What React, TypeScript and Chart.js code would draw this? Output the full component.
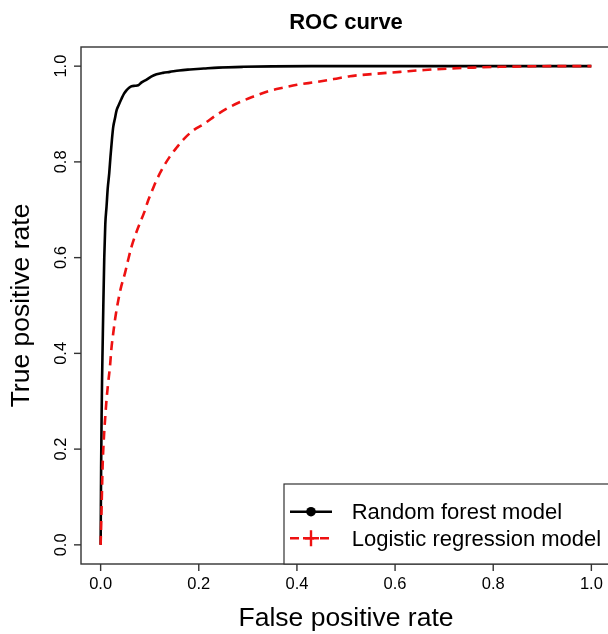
import React, { useEffect, useRef } from "react";
import { Chart, registerables } from "chart.js";

Chart.register(...registerables);

// Random forest ROC curve (false positive rate, true positive rate)
const rfFpr = [0, 0.0005, 0.001, 0.002, 0.003, 0.004, 0.0055, 0.0074, 0.0095, 0.012, 0.0145, 0.0175, 0.02, 0.023, 0.0257, 0.029, 0.0326, 0.0365, 0.0428, 0.048, 0.053, 0.058, 0.063, 0.07, 0.0766, 0.0835, 0.0937, 0.103, 0.114, 0.127, 0.141, 0.16, 0.182, 0.21, 0.24, 0.29, 0.35, 0.43, 1.0];
const rfTpr = [0, 0.08, 0.16, 0.27, 0.35, 0.41, 0.5, 0.6, 0.67, 0.706, 0.745, 0.776, 0.81, 0.846, 0.873, 0.89, 0.908, 0.918, 0.9325, 0.943, 0.95, 0.955, 0.958, 0.959, 0.96, 0.966, 0.972, 0.978, 0.983, 0.986, 0.988, 0.991, 0.993, 0.995, 0.997, 0.9986, 0.9995, 1.0, 1.0];

// Logistic regression ROC curve
const lrFpr = [0, 0.002, 0.004, 0.007, 0.01, 0.012, 0.015, 0.019, 0.022, 0.0257, 0.03, 0.036, 0.042, 0.0495, 0.056, 0.063, 0.07, 0.08, 0.089, 0.097, 0.105, 0.114, 0.127, 0.141, 0.155, 0.168, 0.189, 0.21, 0.236, 0.26, 0.284, 0.31, 0.34, 0.372, 0.4, 0.44, 0.475, 0.508, 0.56, 0.61, 0.66, 0.711, 0.76, 0.813, 0.87, 0.915, 1.0];
const lrTpr = [0, 0.08, 0.163, 0.23, 0.275, 0.303, 0.335, 0.372, 0.41, 0.442, 0.475, 0.511, 0.54, 0.567, 0.595, 0.623, 0.645, 0.672, 0.695, 0.72, 0.74, 0.762, 0.788, 0.811, 0.83, 0.846, 0.866, 0.879, 0.898, 0.913, 0.925, 0.936, 0.947, 0.955, 0.961, 0.967, 0.973, 0.979, 0.984, 0.988, 0.992, 0.995, 0.997, 0.9986, 0.9995, 1.0, 1.0];

const xTicks = [0, 0.2, 0.4, 0.6, 0.8, 1.0];
const yTicks = [0, 0.2, 0.4, 0.6, 0.8, 1.0];
const xTickLabels = ["0.0", "0.2", "0.4", "0.6", "0.8", "1.0"];
const yTickLabels = ["0.0", "0.2", "0.4", "0.6", "0.8", "1.0"];
const seriesNames = ["Random forest model", "Logistic regression model"];
const chartTitle = "ROC curve";
const xTitle = "False positive rate";
const yTitle = "True positive rate";

const FONT = '"Liberation Sans", Arial, Helvetica, sans-serif';
const W = 620;
const H = 634;
const AXIS = "#333333";
const RF_COLOR = "#000000";
const LR_COLOR = "#ee1111";

const decorPlugin = {
  id: "rDecor",
  afterDraw(chart: any) {
    const ctx = chart.ctx as CanvasRenderingContext2D;
    const { left, top, right, bottom } = chart.chartArea;
    const xs = chart.scales.x;
    const ys = chart.scales.y;
    ctx.save();

    // plot box
    ctx.strokeStyle = AXIS;
    ctx.lineWidth = 1.4;
    ctx.strokeRect(left, top, right - left, bottom - top);

    // x ticks
    ctx.fillStyle = "#000";
    ctx.font = `16.5px ${FONT}`;
    ctx.textAlign = "center";
    ctx.textBaseline = "alphabetic";
    xTicks.forEach((v, i) => {
      const px = xs.getPixelForValue(v);
      ctx.beginPath();
      ctx.moveTo(px, bottom);
      ctx.lineTo(px, bottom + 7);
      ctx.stroke();
      ctx.fillText(xTickLabels[i], px, bottom + 24.5);
    });

    // y ticks (rotated labels)
    yTicks.forEach((v, i) => {
      const py = ys.getPixelForValue(v);
      ctx.beginPath();
      ctx.moveTo(left, py);
      ctx.lineTo(left - 7, py);
      ctx.stroke();
      ctx.save();
      ctx.translate(left - 15.3, py);
      ctx.rotate(-Math.PI / 2);
      ctx.fillText(yTickLabels[i], 0, 0);
      ctx.restore();
    });

    // title
    ctx.font = `bold 22px ${FONT}`;
    ctx.fillText(chartTitle, (left + right) / 2, 28.5);

    // axis titles
    ctx.font = `26.5px ${FONT}`;
    ctx.fillText(xTitle, (left + right) / 2, 626);
    ctx.save();
    ctx.translate(29, (top + bottom) / 2);
    ctx.rotate(-Math.PI / 2);
    ctx.fillText(yTitle, 0, 0);
    ctx.restore();

    // legend
    const lgRight = right;
    const lgBottom = bottom;
    const lgLeft = lgRight - 327;
    const lgTop = lgBottom - 80;
    ctx.fillStyle = "#fff";
    ctx.fillRect(lgLeft, lgTop, lgRight - lgLeft, lgBottom - lgTop);
    ctx.strokeStyle = AXIS;
    ctx.lineWidth = 1.2;
    ctx.strokeRect(lgLeft, lgTop, lgRight - lgLeft, lgBottom - lgTop);

    const segX0 = lgLeft + 6;
    const segX1 = lgLeft + 48;
    const symX = lgLeft + 27;
    const row1 = lgTop + 27.7;
    const row2 = lgTop + 54.3;

    ctx.strokeStyle = RF_COLOR;
    ctx.lineWidth = 2.4;
    ctx.setLineDash([]);
    ctx.beginPath();
    ctx.moveTo(segX0, row1);
    ctx.lineTo(segX1, row1);
    ctx.stroke();
    ctx.fillStyle = RF_COLOR;
    ctx.beginPath();
    ctx.arc(symX, row1, 4.8, 0, Math.PI * 2);
    ctx.fill();

    ctx.strokeStyle = LR_COLOR;
    ctx.setLineDash([9, 6]);
    ctx.beginPath();
    ctx.moveTo(segX0, row2);
    ctx.lineTo(segX1, row2);
    ctx.stroke();
    ctx.setLineDash([]);
    ctx.beginPath();
    ctx.moveTo(symX - 8, row2);
    ctx.lineTo(symX + 8, row2);
    ctx.moveTo(symX, row2 - 8);
    ctx.lineTo(symX, row2 + 8);
    ctx.stroke();

    ctx.fillStyle = "#000";
    ctx.font = `22px ${FONT}`;
    ctx.textAlign = "left";
    ctx.fillText(seriesNames[0], lgLeft + 67.7, row1 + 7.5);
    ctx.fillText(seriesNames[1], lgLeft + 67.7, row2 + 7.5);

    ctx.restore();
  },
};

export default function App() {
  const canvasRef = useRef<HTMLCanvasElement | null>(null);

  useEffect(() => {
    const canvas = canvasRef.current;
    if (!canvas) return;
    const rfData = rfFpr.map((x, i) => ({ x, y: rfTpr[i] }));
    const lrData = lrFpr.map((x, i) => ({ x, y: lrTpr[i] }));
    const chart = new Chart(canvas, {
      type: "line",
      data: {
        datasets: [
          {
            label: seriesNames[1],
            data: lrData,
            borderColor: LR_COLOR,
            borderWidth: 2.6,
            borderDash: [9, 6],
            pointRadius: 0,
            cubicInterpolationMode: "monotone",
            fill: false,
            order: 1,
          },
          {
            label: seriesNames[0],
            data: rfData,
            borderColor: RF_COLOR,
            borderWidth: 2.6,
            pointRadius: 0,
            cubicInterpolationMode: "monotone",
            fill: false,
            order: 2,
          },
        ],
      },
      options: {
        animation: false,
        responsive: false,
        devicePixelRatio: 1,
        layout: { padding: { left: 81, top: 47, right: W - 611, bottom: H - 564 } },
        scales: {
          x: { type: "linear", min: -0.04, max: 1.04, display: false },
          y: { type: "linear", min: -0.04, max: 1.04, display: false },
        },
        plugins: {
          legend: { display: false },
          title: { display: false },
          tooltip: { enabled: false },
        },
      },
      plugins: [decorPlugin],
    });
    return () => chart.destroy();
  }, []);

  return (
    <div style={{ position: "fixed", left: 0, top: 0, width: W, height: H, background: "#fff" }}>
      <canvas ref={canvasRef} width={W} height={H} style={{ display: "block", width: W, height: H }} />
    </div>
  );
}
